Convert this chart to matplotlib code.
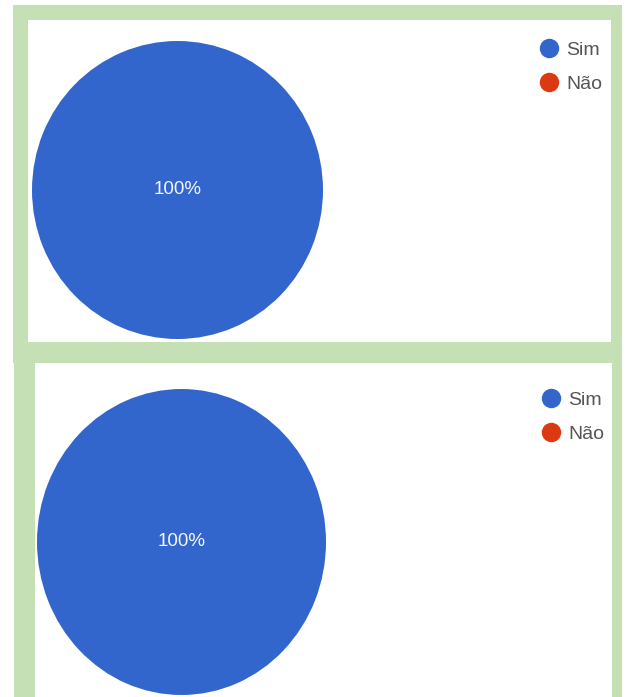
import matplotlib
matplotlib.use("Agg")
import matplotlib.pyplot as plt
from matplotlib.patches import Rectangle
from matplotlib.lines import Line2D

plt.rcParams['font.family'] = ['Liberation Sans', 'DejaVu Sans']

categories = ['Sim', 'Não']
values_top = [100, 0]
values_bottom = [100, 0]
colors = ['#3366CC', '#DC3912']
green = '#C6E0B6'

W, H = 631, 697
fig = plt.figure(figsize=(W / 100, H / 100), dpi=100)
fig.patch.set_facecolor('white')


def rect(x0, y0, x1, y1, color):
    # pixel coords from top-left
    fig.add_artist(Rectangle((x0 / W, 1 - y1 / H), (x1 - x0) / W, (y1 - y0) / H,
                             transform=fig.transFigure, facecolor=color,
                             edgecolor='none', zorder=0))


# frames
rect(13, 5, 622, 363, green)
rect(14, 343, 622, 697, green)
rect(28, 20, 611, 342, 'white')
rect(35, 363, 612, 697, 'white')


def pie_axes(cx, cy, rx, ry):
    return fig.add_axes([(cx - rx) / W, 1 - (cy + ry) / H, 2 * rx / W, 2 * ry / H])


def autopct(p):
    return f'{p:.0f}%' if p > 0 else ''


def draw_pie(ax, values):
    wedges, texts, autotexts = ax.pie(values, colors=colors, startangle=90,
                                      counterclock=False, autopct=autopct,
                                      pctdistance=0.0,
                                      wedgeprops=dict(linewidth=0))
    for t in autotexts:
        t.set_color('#F4F6FF')
        t.set_fontsize(13.5)
    ax.set_xlim(-1, 1)
    ax.set_ylim(-1, 1)
    ax.set_aspect('auto')
    ax.axis('off')


ax1 = pie_axes(177.5, 190, 145.5, 149)
draw_pie(ax1, values_top)
ax2 = pie_axes(181.5, 542, 144.5, 153)
draw_pie(ax2, values_bottom)

handles = [Line2D([], [], marker='o', linestyle='none', markersize=14,
                  markerfacecolor=c, markeredgecolor='none') for c in colors]


def legend(x, y):
    lg = fig.legend(handles, categories, loc='upper left',
                    bbox_to_anchor=(x / W, 1 - y / H), frameon=False,
                    fontsize=14, handletextpad=0.4, labelspacing=0.84,
                    handlelength=1.0, borderpad=0, borderaxespad=0)
    for t in lg.get_texts():
        t.set_color('#555555')


legend(539, 41)
legend(541, 391)

fig.savefig('out.png', dpi=100, facecolor='white')
